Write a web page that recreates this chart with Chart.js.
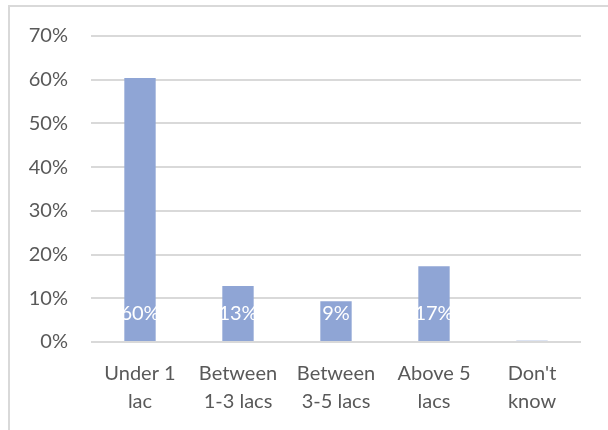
<!DOCTYPE html>
<html lang="en">
<head>
    <meta charset="UTF-8">
    <title>Income distribution</title>
    <style>
        body { margin: 0; background: #fff; }
        #wrap { position: relative; width: 608px; height: 430px; }
        #frame {
            position: absolute; left: 8px; top: 5px; right: 0; bottom: 0;
            border-left: 2px solid #d9d9d9; border-top: 2px solid #d9d9d9;
        }
        canvas { position: absolute; left: 0; top: 0; }
    </style>
</head>
<body>
    <div id="wrap">
        <div id="frame"></div>
        <canvas id="chart" width="608" height="430"></canvas>
    </div>

    <script src="https://cdn.jsdelivr.net/npm/chart.js"></script>
    <script>
        // Categories (two-line labels) and shares
        const categories = [
            ['Under 1', 'lac'],
            ['Between', '1-3 lacs'],
            ['Between', '3-5 lacs'],
            ['Above 5', 'lacs'],
            ["Don't", 'know']
        ];
        const shares = [0.604, 0.128, 0.093, 0.173, 0.003];
        const yTicks = [0, 0.1, 0.2, 0.3, 0.4, 0.5, 0.6, 0.7];

        const textColor = '#595959';
        const fontFamily = 'Lato, "Liberation Sans", sans-serif';

        // white value labels placed near the base of each bar
        const baseLabels = {
            id: 'baseLabels',
            afterDatasetsDraw(chart) {
                const ctx = chart.ctx;
                const meta = chart.getDatasetMeta(0);
                const y0 = chart.scales.y.getPixelForValue(0);
                ctx.save();
                ctx.fillStyle = '#ffffff';
                ctx.font = '20px ' + fontFamily;
                ctx.textAlign = 'center';
                ctx.textBaseline = 'middle';
                meta.data.forEach((bar, i) => {
                    const pct = Math.round(shares[i] * 100);
                    if (pct < 1) return;
                    ctx.fillText(pct + '%', bar.x, y0 - 28);
                });
                ctx.restore();
            }
        };

        new Chart(document.getElementById('chart'), {
            type: 'bar',
            data: {
                labels: categories,
                datasets: [{
                    data: shares,
                    backgroundColor: '#8fa5d5',
                    categoryPercentage: 0.32,
                    barPercentage: 1
                }]
            },
            options: {
                responsive: false,
                animation: false,
                layout: { padding: { top: 36, right: 27, left: 0, bottom: 0 } },
                plugins: {
                    legend: { display: false },
                    tooltip: { enabled: false }
                },
                scales: {
                    x: {
                        grid: { display: false },
                        border: { display: false },
                        ticks: {
                            color: textColor,
                            font: { family: fontFamily, size: 20, lineHeight: 1.4 },
                            padding: 10,
                            maxRotation: 0,
                            autoSkip: false
                        },
                        afterFit(scale) { scale.height = 88; }
                    },
                    y: {
                        min: 0,
                        max: 0.7,
                        afterBuildTicks(scale) {
                            scale.ticks = yTicks.map(v => ({ value: v }));
                        },
                        grid: { color: '#d9d9d9', lineWidth: 2, drawTicks: false },
                        border: { display: false },
                        ticks: {
                            color: textColor,
                            font: { family: fontFamily, size: 20 },
                            padding: 23,
                            callback: v => Math.round(v * 100) + '%'
                        },
                        afterFit(scale) { scale.width = 91; }
                    }
                }
            },
            plugins: [baseLabels]
        });
    </script>
</body>
</html>
